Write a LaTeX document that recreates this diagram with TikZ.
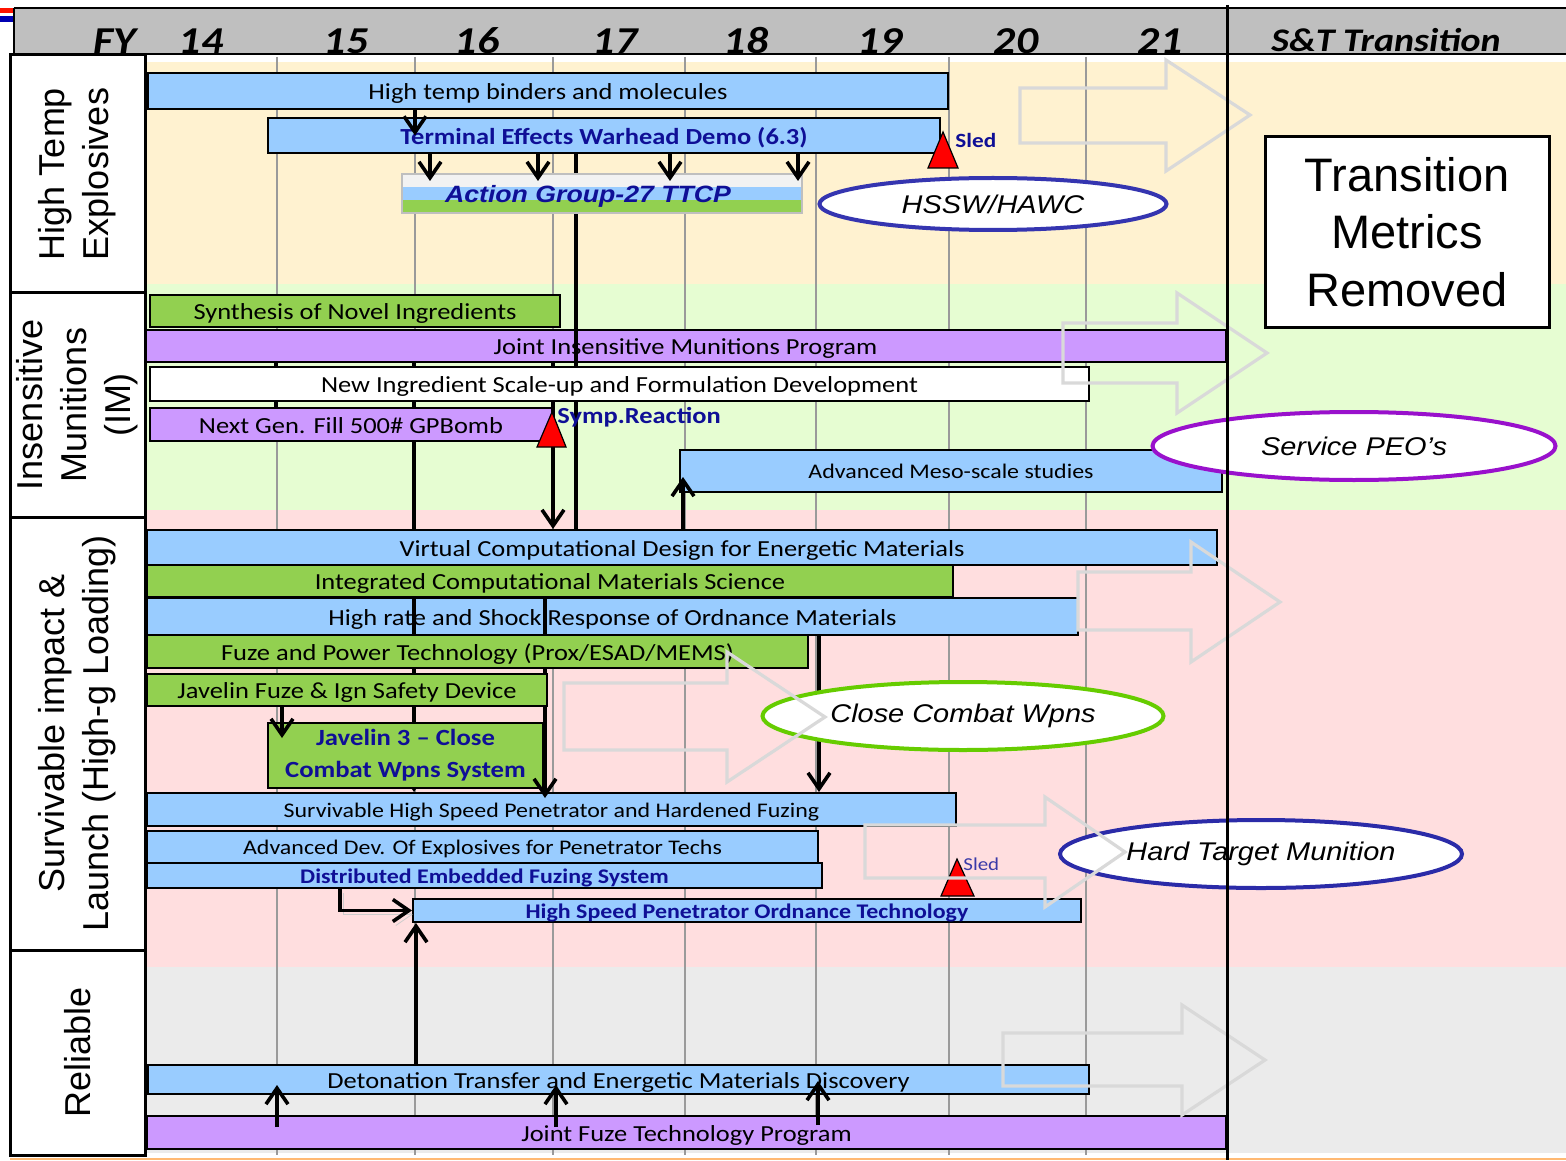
\documentclass[tikz,border=0pt]{standalone}
\usepackage{fontspec}
\setmainfont{Carlito}[FakeStretch=1.15]
\newfontfamily\arialfont{Liberation Sans}
\newfontfamily\arialwide{Liberation Sans}[FakeStretch=1.13]
\usetikzlibrary{shapes.geometric,arrows.meta}

\definecolor{barblue}{HTML}{99CCFF}
\definecolor{bargreen}{HTML}{92D050}
\definecolor{barpurple}{HTML}{CC99FF}
\definecolor{bandbeige}{HTML}{FFF2D0}
\definecolor{bandgreen}{HTML}{E6FDD2}
\definecolor{bandpink}{HTML}{FFDEDF}
\definecolor{bandgray}{HTML}{EBEBEB}
\definecolor{hdrgray}{HTML}{BFBFBF}
\definecolor{darkblue}{HTML}{0F0F96}
\definecolor{sledblue}{HTML}{3A3AA8}
\definecolor{hsswblue}{HTML}{3535B0}
\definecolor{htmblue}{HTML}{2B2BA8}
\definecolor{ccwgreen}{HTML}{66CC00}
\definecolor{peopurple}{HTML}{9911CC}
\definecolor{ghost}{HTML}{D9D9D9}
\definecolor{gridgray}{HTML}{9A9A9A}

\pgfdeclarelayer{bands}
\pgfdeclarelayer{back}
\pgfsetlayers{bands,back,main}

\tikzstyle{bar}=[draw,line width=1pt,inner sep=0pt,text height=8.6pt,text depth=0pt,font=\fontsize{11.5}{13}\selectfont]
\tikzstyle{bluebar}=[bar,fill=barblue]
\tikzstyle{greenbar}=[bar,fill=bargreen]
\tikzstyle{purplebar}=[bar,fill=barpurple]
\tikzstyle{small}=[text height=7.8pt,font=\fontsize{10.4}{12}\selectfont]
\tikzstyle{linked}=[text=darkblue,font=\fontsize{11.5}{13}\selectfont\bfseries]
\tikzstyle{smalllinked}=[text=darkblue,text height=7.8pt,font=\fontsize{10.4}{12}\selectfont\bfseries]
\tikzstyle{link}=[line width=1.8pt,->]
\tikzstyle{backline}=[line width=1.8pt]
\tikzstyle{peo}=[ellipse,draw,line width=2pt,fill=white,inner sep=0pt,font=\arialwide\itshape\fontsize{12.8}{15}\selectfont]
\tikzstyle{ghostarrow}=[draw=ghost,line width=1.6pt]
\tikzstyle{sledmark}=[fill=red,draw=black,line width=0.6pt]
\tikzstyle{side}=[draw,line width=1.5pt,fill=white,inner sep=0pt]
\tikzstyle{sidetext}=[rotate=90,align=center,font=\arialfont\fontsize{18}{22}\selectfont]
\tikzstyle{year}=[anchor=base,inner sep=0pt,font=\fontsize{19}{21}\selectfont\bfseries\itshape]

\begin{document}
\begin{tikzpicture}[x=0.5pt,y=-0.5pt,>={Straight Barb[length=8pt,width=11pt]}]
  \useasboundingbox (0,0) rectangle (1566,1160);

  % bands, header and year grid
  \begin{pgfonlayer}{bands}
    \fill[red!85!orange] (0,8) rectangle (13,13);
    \fill[blue!70!black] (0,16) rectangle (13,22);
    \fill[bandbeige] (145,62) rectangle (1566,284);
    \fill[bandgreen] (145,284) rectangle (1566,510);
    \fill[bandpink] (145,510) rectangle (1566,967);
    \fill[bandgray] (145,967) rectangle (1566,1153);
    \fill[hdrgray] (14,8) rectangle (1566,54);
    \draw[line width=1.2pt] (14,8) -- (1566,8);
    \draw[line width=0.6pt] (14,8) -- (14,54) -- (1566,54);
    \draw[orange!55,line width=1pt] (10,1159) -- (1566,1159);
    \draw[gridgray,line width=0.6pt] (277,57) -- (277,1155) (415,57) -- (415,1155)
      (553,57) -- (553,1155) (685,57) -- (685,1155) (816,57) -- (816,1155)
      (949,57) -- (949,1155) (1086,57) -- (1086,1155);
  \end{pgfonlayer}

  \node[year] (fy) at (115,54) {FY};
  \node[year] (y14) at (201,54) {14};
  \node[year] (y15) at (346,54) {15};
  \node[year] (y16) at (477,54) {16};
  \node[year] (y17) at (615,54) {17};
  \node[year] (y18) at (746,54) {18};
  \node[year] (y19) at (880,54) {19};
  \node[year] (y20) at (1016,54) {20};
  \node[year] (y21) at (1160,54) {21};
  \node[year,font=\fontsize{16.5}{18}\selectfont\bfseries\itshape] (snt) at (1386,52) {S\&T Transition};

  % programme bars
  \node[bluebar,minimum width=400pt,minimum height=18pt] (htb) at (548,91) {High temp binders and molecules};
  \node[bluebar,linked,minimum width=336pt,minimum height=17.5pt] (tewd) at (604,135.5) {Terminal Effects Warhead Demo (6.3)};
  \node[bar,draw=black!25,fill=black!5,minimum width=200pt,minimum height=19.5pt,
    path picture={
      \fill[barblue] ([yshift=-6.5pt]path picture bounding box.north west) rectangle ([yshift=6.5pt]path picture bounding box.south east);
      \fill[bargreen] (path picture bounding box.south west) rectangle ([yshift=6.5pt]path picture bounding box.south east);}] (ag) at (602,193.5) {};
  \node[text=darkblue,inner sep=0pt,font=\arialwide\bfseries\itshape\fontsize{11.8}{14}\selectfont] (agtext) at (588,196) {Action Group-27 TTCP};
  \node[greenbar,minimum width=205pt,minimum height=16pt] (sni) at (355,311) {Synthesis of Novel Ingredients};
  \node[purplebar,minimum width=540.5pt,minimum height=16pt] (jimp) at (685.5,346) {Joint Insensitive Munitions Program};
  \node[bar,fill=white,minimum width=469.5pt,minimum height=17pt] (nis) at (619.5,384) {New Ingredient Scale-up and Formulation Development};
  \node[purplebar,minimum width=201pt,minimum height=16.5pt] (ngf) at (351,424.5) {Next Gen. Fill 500\# GPBomb};
  \node[bluebar,small,minimum width=271pt,minimum height=21pt] (meso) at (951,471) {Advanced Meso-scale studies};
  \node[bluebar,minimum width=535pt,minimum height=17.5pt] (vcd) at (682,547.5) {Virtual Computational Design for Energetic Materials};
  \node[greenbar,minimum width=403pt,minimum height=16pt] (icms) at (550,581) {Integrated Computational Materials Science};
  \node[bluebar,minimum width=465.5pt,minimum height=18.5pt] (hrs) at (612.5,616.5) {High rate and Shock Response of Ordnance Materials};
  \node[greenbar,minimum width=330.5pt,minimum height=16.5pt] (fpt) at (477.5,651.5) {Fuze and Power Technology (Prox/ESAD/MEMS)};
  \node[greenbar,minimum width=200pt,minimum height=16pt] (jfd) at (347,690) {Javelin Fuze \& Ign Safety Device};
  \node[greenbar,linked,align=center,text height=,text depth=,font=\fontsize{11.6}{16}\selectfont\bfseries,minimum width=137.5pt,minimum height=32.5pt] (jav) at (405.5,755.5) {Javelin 3 – Close\\Combat Wpns System};
  \node[bluebar,small,minimum width=404.5pt,minimum height=16.5pt] (shsp) at (551.5,809.5) {Survivable High Speed Penetrator and Hardened Fuzing};
  \node[bluebar,small,minimum width=335.5pt,minimum height=16pt] (adep) at (482.5,847) {Advanced Dev. Of Explosives for Penetrator Techs};
  \node[bluebar,smalllinked,minimum width=337.5pt,minimum height=12.5pt] (def) at (484.5,875.5) {Distributed Embedded Fuzing System};
  \node[bluebar,smalllinked,minimum width=334pt,minimum height=11.5pt] (hspot) at (747,910.5) {High Speed Penetrator Ordnance Technology};
  \node[bluebar,minimum width=470.5pt,minimum height=14.5pt] (dtem) at (618.5,1079.5) {Detonation Transfer and Energetic Materials Discovery};
  \node[purplebar,minimum width=539.5pt,minimum height=16.5pt] (jftp) at (686.5,1132.5) {Joint Fuze Technology Program};

  % links running behind the bars
  \begin{pgfonlayer}{back}
    \draw[backline] (576,0 |- tewd.south) -- (576,0 |- vcd.north);
    \draw[backline] (276,0 |- jimp.south) -- (276,0 |- ngf.north);
    \draw[link] (414,0 |- jimp.south) -- (414,0 |- shsp.north);
    \draw[link] (553,0 |- jimp.south) -- (553,0 |- vcd.north);
    \draw[backline] (545,0 |- hrs.north) -- (545,0 |- jav.south);
  \end{pgfonlayer}
  \draw[backline] (576,0 |- jimp.north) -- (576,0 |- jimp.south);
  \draw[backline] (414,0 |- hrs.north) -- (414,0 |- hrs.south);
  \draw[backline] (545,0 |- hrs.north) -- (545,0 |- hrs.south);

  % links over the bars
  \draw[link] (415,0 |- htb.south) -- (415,0 |- tewd.center);
  \draw[link,shorten >=-4pt] (430,0 |- tewd.south) -- (430,0 |- ag.north);
  \draw[link,shorten >=-4pt] (538,0 |- tewd.south) -- (538,0 |- ag.north);
  \draw[link,shorten >=-4pt] (670,0 |- tewd.south) -- (670,0 |- ag.north);
  \draw[link,shorten >=-4pt] (798,0 |- tewd.south) -- (798,0 |- ag.north);
  \draw[link,shorten >=-8pt] (683,0 |- vcd.north) -- (683,0 |- meso.south);
  \draw[link] (819,0 |- hrs.south) -- (819,0 |- shsp.north);
  \draw[link,shorten >=-3pt] (545,0 |- jav.south) -- (545,0 |- shsp.north);
  \draw[link,shorten >=-8pt] (282,0 |- jfd.south) -- (282,0 |- jav.north);
  \draw[link,preaction={draw=black!20,transform canvas={shift={(1.5pt,-2pt)}}}] (340,0 |- def.south) |- (hspot.west);
  \draw[link] (416,0 |- dtem.north) -- (416,0 |- hspot.south);
  \draw[link,shorten <=-6pt,shorten >=-5pt] (277,0 |- jftp.north) -- (277,0 |- dtem.south);
  \draw[link,shorten <=-6pt,shorten >=-5pt] (556,0 |- jftp.north) -- (556,0 |- dtem.south);
  \draw[link,shorten <=-5pt,shorten >=-7pt] (818,0 |- jftp.north) -- (818,0 |- dtem.south);

  % sled tests
  \draw[sledmark] (943,132) -- (958,168) -- (928,168) -- cycle;
  \draw[sledmark] (552,412) -- (566,447) -- (537,447) -- cycle;
  \draw[sledmark] (957,859) -- (974,896) -- (941,896) -- cycle;
  \node[anchor=west,inner sep=0pt,text=darkblue,font=\fontsize{10.1}{12}\selectfont\bfseries] (sled1) at (955,140) {Sled};
  \node[anchor=west,inner sep=0pt,text=darkblue,font=\fontsize{11.5}{13}\selectfont\bfseries] (symp) at (557,417) {Symp.Reaction};
  \node[anchor=west,inner sep=0pt,text=sledblue,font=\fontsize{9.1}{11}\selectfont] (sled2) at (963,864) {Sled};

  % transition customers
  \node[peo,draw=hsswblue,minimum width=173.5pt,minimum height=26pt] (hssw) at (993,204) {HSSW/HAWC};
  \node[peo,draw=peopurple,minimum width=201.5pt,minimum height=34pt] (peo) at (1354,446) {Service PEO’s};
  \node[peo,draw=ccwgreen,minimum width=200.5pt,minimum height=34pt] (ccw) at (963,716) {Close Combat Wpns};
  \node[peo,draw=htmblue,minimum width=201pt,minimum height=34pt] (htm) at (1261,854) {Hard Target Munition};

  % transition arrows
  \draw[ghostarrow] (1020,88) -- (1166,88) -- (1166,60) -- (1250,115) -- (1166,171) -- (1166,143) -- (1020,143) -- cycle;
  \draw[ghostarrow] (1063,323) -- (1177,323) -- (1177,293) -- (1267,353) -- (1177,413) -- (1177,383) -- (1063,383) -- cycle;
  \draw[ghostarrow] (1078,572) -- (1191,572) -- (1191,542) -- (1280,602) -- (1191,662) -- (1191,630) -- (1078,630) -- cycle;
  \draw[ghostarrow] (564,683) -- (727,683) -- (727,652) -- (825,717) -- (727,782) -- (727,750) -- (564,750) -- cycle;
  \draw[ghostarrow] (865,825) -- (1045,825) -- (1045,797) -- (1125,852) -- (1045,907) -- (1045,878) -- (865,878) -- cycle;
  \draw[ghostarrow] (1003,1033) -- (1182,1033) -- (1182,1005) -- (1265,1060) -- (1182,1115) -- (1182,1086) -- (1003,1086) -- cycle;

  \draw[line width=1.5pt] (1227,5) -- (1227,1160);

  \node[side,align=center,minimum width=142pt,minimum height=95pt,font=\arialfont\fontsize{23.5}{28.75}\selectfont] (tm) at (1407,232) {Transition\\Metrics\\Removed};

  % thrust areas
  \node[side,sidetext,minimum width=119pt,minimum height=67.5pt] (hte) at (77.5,174) {High Temp\\Explosives};
  \node[side,sidetext,minimum width=112pt,minimum height=67.5pt] (im) at (77.5,405) {Insensitive\\Munitions\\(IM)};
  \node[side,sidetext,minimum width=216.5pt,minimum height=67.5pt] (surv) at (77.5,733.5) {Survivable impact \&\\Launch (High-g Loading)};
  \node[side,sidetext,minimum width=102.5pt,minimum height=67.5pt] (rel) at (77.5,1052.5) {Reliable};
\end{tikzpicture}
\end{document}
